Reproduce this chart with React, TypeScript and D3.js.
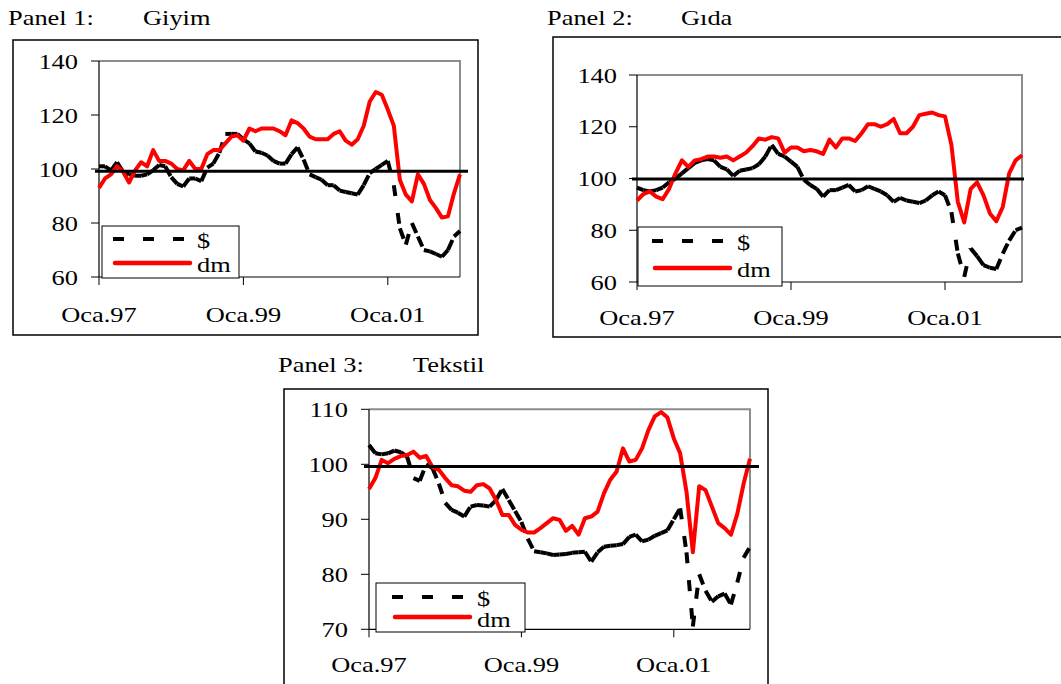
import * as d3 from 'd3'

// monthly categories, Oca.97 .. Oca.02
const months = d3.range(61)
const xTickIdx = [0, 24, 48]
const xTickLabels = ['Oca.97', 'Oca.99', 'Oca.01']

const yTicksA = [60, 80, 100, 120, 140]
const yTicksB = [70, 80, 90, 100, 110]

// Panel 1: Giyim
const giyimUsd = [
  101, 101, 99.5, 102.5, 99, 98, 97.5, 97.5, 98, 99.5, 101.5, 101, 97, 94.5, 93.5, 96.5, 96.5, 95.5, 100.5, 102,
  106, 113, 113, 113, 111, 109.5, 106.5, 106, 105, 103, 102, 102, 105.5, 108, 103.5, 98, 97, 96, 94, 94,
  92, 91.5, 91, 90.5, 94, 98.5, 100, 101.5, 103, 94, 78, 72, 80, 75, 70, 69.5, 68.5, 67.5, 70, 75, 77,
]
const giyimDm = [
  93, 96.5, 98, 101, 99, 95, 99.5, 102.5, 101, 107, 103, 103, 102, 100, 99.5, 103, 100, 100, 105.5, 107,
  107, 109.5, 112, 112.5, 110.5, 115, 114, 115, 115, 115, 114, 112.5, 118, 117, 115, 112, 111, 111, 111, 113,
  114, 110.5, 109, 111, 116, 125, 128.5, 127.5, 122, 116, 96, 90.5, 88, 98, 94.5, 88.5, 85.5, 82, 82.5, 91, 98,
]

// Panel 2: Gida
const gidaUsd = [
  96.5, 95.5, 95, 95.5, 96.5, 98.5, 100, 102, 104, 106, 107, 107.5, 107, 104.5, 103.5, 101, 103, 103.5, 104, 105.5,
  108.5, 113, 109.5, 108.5, 106.5, 104.5, 99.5, 97.5, 96, 93, 95.5, 95.5, 96.5, 97.5, 95, 95.5, 97, 96, 95, 93.5,
  91, 92.5, 91.5, 91, 90.5, 91.5, 93.5, 95, 93.5, 87, 71, 62, 73, 70, 66.5, 65.5, 65, 71, 76, 80, 81,
]
const gidaDm = [
  91.5, 94, 95, 93, 92, 96, 102, 107, 104.5, 107, 107.5, 108.5, 108.5, 108, 108.5, 107, 108.5, 110, 112.5, 115.5,
  115, 116, 115.5, 110, 112, 112, 110.5, 111, 110.5, 109.5, 115, 112, 115.5, 115.5, 114.5, 117.5, 121, 121, 120, 121,
  123, 117.5, 117.5, 120, 124.5, 125, 125.5, 124.5, 124, 113, 91, 83, 96, 98.5, 93.5, 86.5, 83.5, 89, 102, 107, 109,
]

// Panel 3: Tekstil
const tekstilUsd = [
  103.5, 102, 101.8, 102, 102.5, 102.2, 101.4, 97.5, 97, 100, 99.3, 96.5, 93, 91.7, 91.2, 90.5, 92.3, 92.6, 92.5, 92.3,
  93.5, 95.5, 93.5, 91.5, 89.5, 86.5, 84.2, 84, 83.8, 83.5, 83.6, 83.7, 83.9, 84, 84.1, 82.3, 84, 85, 85.2, 85.3,
  85.5, 86.8, 87.2, 86, 86.3, 87, 87.5, 88, 90, 92, 84, 70.5, 80, 77, 75, 76, 76.5, 74.5, 78.5, 83, 85,
]
const tekstilDm = [
  95.5, 97.5, 100.8, 100.2, 101, 101.5, 101.7, 102.3, 101.2, 101.5, 99.5, 99, 97.5, 96.2, 96, 95.2, 95, 96.2, 96.4, 95.6,
  93.5, 90.8, 90.8, 89, 88.1, 87.6, 87.6, 88.4, 89.3, 90.2, 89.9, 87.9, 88.8, 87.2, 90.2, 90.5, 91.4, 94.7, 97.2, 98.7,
  102.9, 100.5, 100.8, 102.9, 106.2, 108.7, 109.5, 108.5, 104.7, 102, 95, 84, 96, 95.3, 92.3, 89.3, 88.4, 87.2, 91, 96.5, 101,
]

const FONT = '"Liberation Serif", "Times New Roman", serif'

function Label({ x, y, anchor = 'start', children }: any) {
  return (
    <text
      transform={`translate(${x},${y}) scale(1.2,1)`}
      textAnchor={anchor}
      fontFamily={FONT}
      fontSize={22}
      fill="#000"
    >
      {children}
    </text>
  )
}

function Panel({ cfg, usd, dm }: any) {
  const { frame, plot, yTicks, refValue, legend } = cfg
  const x = d3.scaleLinear().domain([0, months.length - 1]).range([plot.l, plot.r])
  const y = d3
    .scaleLinear()
    .domain([yTicks[0], yTicks[yTicks.length - 1]])
    .range([plot.b, plot.t])

  const line = d3
    .line<number>()
    .x((_, i) => x(months[i]))
    .y((d) => y(d))

  // Excel restarts the dash pattern at each vertex, so draw segment by segment
  const segLine = d3
    .line<[number, number]>()
    .x((d) => x(d[0]))
    .y((d) => y(d[1]))
  const usdPts: [number, number][] = usd.map((v: number, i: number) => [months[i], v])
  const segs = d3.pairs(usdPts)

  return (
    <g>
      <Label x={cfg.title.x} y={cfg.title.y}>{cfg.title.text}</Label>
      <Label x={cfg.name.x} y={cfg.name.y}>{cfg.name.text}</Label>
      <rect x={frame.x} y={frame.y} width={frame.w} height={frame.h} fill="#fff" stroke="#000" strokeWidth={1.5} />

      {/* plot area border */}
      <path
        d={`M${plot.l},${plot.t}H${plot.r}V${plot.b}`}
        fill="none"
        stroke="#8c8c8c"
        strokeWidth={2}
      />
      <line x1={plot.l} x2={plot.r} y1={plot.b} y2={plot.b} stroke="#000" strokeWidth={1.2} />
      <line x1={plot.l} x2={plot.l} y1={plot.t} y2={plot.b} stroke="#000" strokeWidth={1.2} />

      {yTicks.map((t: number) => (
        <g key={t}>
          <line x1={plot.l - 8} x2={plot.l} y1={y(t)} y2={y(t)} stroke="#000" strokeWidth={1} />
          <Label x={cfg.yLabelX} y={y(t) + 7.5} anchor="end">{t}</Label>
        </g>
      ))}
      {xTickIdx.map((t, i) => (
        <g key={t}>
          <line x1={x(t)} x2={x(t)} y1={plot.b} y2={plot.b + 8} stroke="#000" strokeWidth={1} />
          <Label x={x(t)} y={cfg.xLabelY} anchor="middle">{xTickLabels[i]}</Label>
        </g>
      ))}

      {segs.map((s, i) => (
        <path
          key={i}
          d={segLine(s) || ''}
          fill="none"
          stroke="#000"
          strokeWidth={4}
          strokeDasharray="11,17"
        />
      ))}
      <path
        d={line(dm) || ''}
        fill="none"
        stroke="#ff0000"
        strokeWidth={4}
        strokeLinejoin="round"
      />

      <line
        x1={cfg.refX0}
        x2={cfg.refX1}
        y1={y(refValue)}
        y2={y(refValue)}
        stroke="#000"
        strokeWidth={3}
      />

      <rect x={legend.x} y={legend.y} width={legend.w} height={legend.h} fill="#fff" stroke="#000" strokeWidth={1} />
      <line
        x1={legend.lx0}
        x2={legend.lx1}
        y1={legend.dashY}
        y2={legend.dashY}
        stroke="#000"
        strokeWidth={4}
        strokeDasharray="11,19"
      />
      <Label x={legend.textX} y={legend.usdY}>$</Label>
      <line
        x1={legend.rx0}
        x2={legend.rx1}
        y1={legend.redY}
        y2={legend.redY}
        stroke="#ff0000"
        strokeWidth={4.5}
        strokeLinecap="round"
      />
      <Label x={legend.textX} y={legend.dmY}>dm</Label>
    </g>
  )
}

const panel1 = {
  title: { x: 8, y: 25, text: 'Panel 1:' },
  name: { x: 143, y: 25, text: 'Giyim' },
  frame: { x: 13, y: 40, w: 465, h: 295 },
  plot: { l: 99, t: 61, r: 460, b: 277 },
  yTicks: yTicksA,
  yLabelX: 78,
  xLabelY: 322,
  refValue: 99.2,
  refX0: 95,
  refX1: 468,
  legend: { x: 102, y: 226, w: 137, h: 52, lx0: 113, lx1: 185, rx0: 115, rx1: 190, dashY: 239, redY: 263, textX: 197, usdY: 248, dmY: 272 },
}

const panel2 = {
  title: { x: 547, y: 25, text: 'Panel 2:' },
  name: { x: 681, y: 25, text: 'Gıda' },
  frame: { x: 553, y: 37, w: 520, h: 300 },
  plot: { l: 637, t: 75, r: 1022, b: 282 },
  yTicks: yTicksA,
  yLabelX: 617,
  xLabelY: 325,
  refValue: 99.8,
  refX0: 632,
  refX1: 1024,
  legend: { x: 638, y: 227, w: 144, h: 59, lx0: 652, lx1: 725, rx0: 655, rx1: 730, dashY: 241, redY: 268, textX: 737, usdY: 250, dmY: 277 },
}

const panel3 = {
  title: { x: 278, y: 372, text: 'Panel 3:' },
  name: { x: 413, y: 372, text: 'Tekstil' },
  frame: { x: 284, y: 389, w: 484, h: 320 },
  plot: { l: 369, t: 409.3, r: 750, b: 629.3 },
  yTicks: yTicksB,
  yLabelX: 348,
  xLabelY: 672,
  refValue: 99.6,
  refX0: 364,
  refX1: 759,
  legend: { x: 376, y: 583, w: 149, h: 49, lx0: 392, lx1: 465, rx0: 395, rx1: 470, dashY: 597, redY: 617, textX: 477, usdY: 606, dmY: 627 },
}

export default function App() {
  return (
    <svg
      width={1061}
      height={684}
      style={{ position: 'absolute', left: 0, top: 0, background: '#fff' }}
    >
      <Panel cfg={panel1} usd={giyimUsd} dm={giyimDm} />
      <Panel cfg={panel2} usd={gidaUsd} dm={gidaDm} />
      <Panel cfg={panel3} usd={tekstilUsd} dm={tekstilDm} />
    </svg>
  )
}
